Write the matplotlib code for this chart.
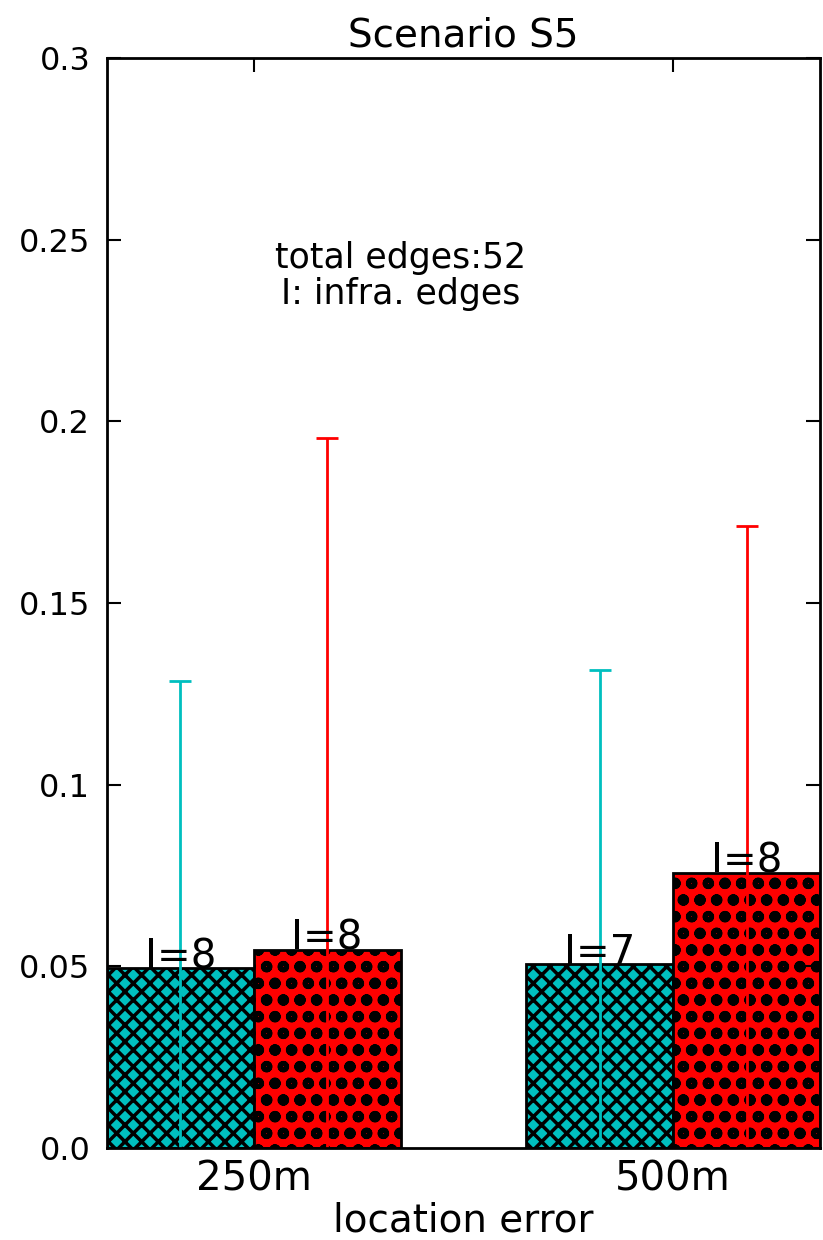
import matplotlib
matplotlib.use('Agg')
import matplotlib.pyplot as plt
import numpy as np

# location error groups
errors = ['250m', '500m']

# mean ratio and std for the two methods
means_a = [0.0495, 0.0506]
std_a = [0.079, 0.081]
means_b = [0.0545, 0.0757]
std_b = [0.141, 0.0955]

# number of infrastructure edges per bar
infra_a = [8, 7]
infra_b = [8, 8]
total_edges = 52

yticks = [0.0, 0.05, 0.1, 0.15, 0.2, 0.25, 0.3]
ytick_labels = ['0.0', '0.05', '0.1', '0.15', '0.2', '0.25', '0.3']

fig = plt.figure(figsize=(8.23, 12.4), dpi=100)
ax = fig.add_axes([0.1300, 0.0742, 0.8663, 0.8790])

ind = np.arange(len(errors))
width = 0.35

err_style = dict(elinewidth=2, capthick=2)
with plt.rc_context({'hatch.linewidth': 2.5}):
    bars_a = ax.bar(ind, means_a, width, align='edge', color='c', edgecolor='k',
                    linewidth=2, hatch='xx', yerr=std_a, ecolor='c', capsize=8,
                    error_kw=err_style)
with plt.rc_context({'hatch.linewidth': 3.5}):
    bars_b = ax.bar(ind + width, means_b, width, align='edge', color='r', edgecolor='k',
                    linewidth=2, hatch='o', yerr=std_b, ecolor='r', capsize=8,
                    error_kw=err_style)

# older versions only read the global setting
for p in bars_a.patches:
    if hasattr(p, 'set_hatch_linewidth'):
        p.set_hatch_linewidth(2.5)
for p in bars_b.patches:
    if hasattr(p, 'set_hatch_linewidth'):
        p.set_hatch_linewidth(3.5)

# label each bar with its infra edge count
for x, h, n in zip(ind, means_a, infra_a):
    ax.text(x + width / 2, h, 'I=%d' % n, ha='center', va='baseline', fontsize=29)
for x, h, n in zip(ind + width, means_b, infra_b):
    ax.text(x + width / 2, h, 'I=%d' % n, ha='center', va='baseline', fontsize=29)

ax.text(0.7, 0.24, 'total edges:%d\nI: infra. edges' % total_edges,
        ha='center', va='center', fontsize=25, linespacing=1.05)

ax.set_xlim(0, 2 * width + 1)
ax.set_ylim(0, 0.3)
ax.set_xticks(ind + width)
ax.set_xticklabels(errors, fontsize=29)
ax.set_yticks(yticks)
ax.set_yticklabels(ytick_labels, fontsize=23)
ax.set_xlabel('location error', fontsize=28, labelpad=2)
ax.set_title('Scenario S5', fontsize=28, pad=8)

ax.tick_params(direction='in', length=10, width=1.5, top=True, right=True)
ax.tick_params(axis='y', pad=12)
ax.tick_params(axis='x', pad=8)
for s in ax.spines.values():
    s.set_linewidth(2)

fig.savefig('out.png', dpi=100)
